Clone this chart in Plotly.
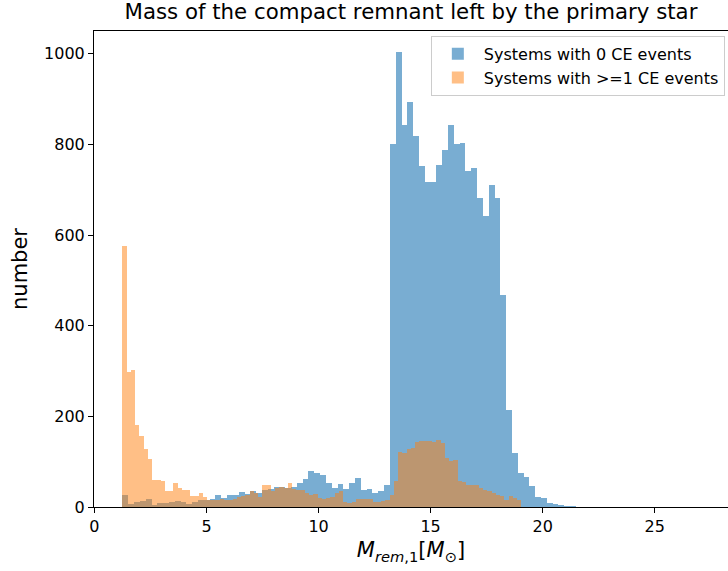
import numpy as np
import plotly.graph_objects as go

# Histogram bin ranges (100 bins each, as matplotlib computed them)
blue_range = (1.25, 27.19)
orange_range = (1.25, 20.18)
n_bins = 100

# Counts per bin: systems with 0 CE events
blue_counts = [
    26, 7, 11, 14, 17, 5, 9, 9, 10, 13,
    10, 7, 12, 16, 16, 18, 27, 19, 26, 26,
    32, 29, 35, 31, 38, 40, 44, 44, 41, 44,
    54, 62, 80, 74, 70, 52, 43, 50, 39, 53,
    63, 37, 40, 30, 36, 49, 800, 1003, 843, 893,
    818, 752, 716, 716, 755, 787, 843, 800, 804, 741,
    748, 682, 643, 710, 682, 468, 215, 119, 75, 66,
    46, 21, 20, 8, 7, 5, 3, 2, 1, 1,
    1, 0, 0, 1, 0, 0, 0, 1, 0, 0,
    0, 0, 0, 0, 0, 0, 0, 0, 0, 1,
]

# Counts per bin: systems with >=1 CE events
orange_counts = [
    575, 297, 303, 180, 157, 127, 106, 60, 60, 57,
    35, 35, 52, 42, 38, 37, 25, 24, 30, 22,
    15, 15, 15, 18, 16, 16, 18, 21, 24, 27,
    36, 30, 22, 48, 49, 35, 43, 45, 43, 52,
    40, 38, 38, 30, 26, 28, 20, 17, 20, 22,
    30, 36, 11, 8, 10, 17, 17, 17, 17, 10,
    12, 13, 16, 26, 57, 121, 119, 129, 131, 143,
    145, 145, 145, 143, 147, 141, 109, 102, 103, 57,
    55, 48, 49, 49, 43, 37, 35, 30, 26, 24,
    15, 24, 20, 16, 1, 0, 1, 0, 0, 1,
]

series_names = ["Systems with 0 CE events", "Systems with >=1 CE events"]
x_ticks = [0, 5, 10, 15, 20, 25]
y_ticks = [0, 200, 400, 600, 800, 1000]


def centers_widths(rng):
    edges = np.linspace(rng[0], rng[1], n_bins + 1)
    return (edges[:-1] + edges[1:]) / 2, np.diff(edges)


bx, bw = centers_widths(blue_range)
ox, ow = centers_widths(orange_range)

fig = go.Figure()
fig.add_trace(go.Bar(
    x=bx, y=blue_counts, width=bw, name=series_names[0],
    marker=dict(color="rgba(31,119,180,0.6)", line=dict(width=0)),
))
fig.add_trace(go.Bar(
    x=ox, y=orange_counts, width=ow, name=series_names[1],
    marker=dict(color="rgba(255,127,14,0.5)", line=dict(width=0)),
))

font_family = "DejaVu Sans, Arial, sans-serif"
fig.update_layout(
    width=728, height=571,
    margin=dict(l=94, r=0, t=31, b=64),
    paper_bgcolor="white", plot_bgcolor="white",
    barmode="overlay", bargap=0,
    font=dict(family=font_family, size=16, color="black"),
    title=dict(
        text="Mass of the compact remnant left by the primary star",
        x=0.5, xref="paper", xanchor="center",
        y=1 - 12 / 571, yref="container", yanchor="middle",
        font=dict(size=21.3, color="black"),
    ),
    xaxis=dict(
        range=[-0.02, 28.27], tickvals=x_ticks,
        showgrid=False, zeroline=False,
        showline=True, linecolor="black", linewidth=1, mirror=True,
        ticks="outside", ticklen=5, tickcolor="black",
        tickfont=dict(size=16),
        title=dict(
            text="<i>M</i><sub><i>rem</i>,1</sub>[<i>M</i><sub>⊙</sub>]",
            font=dict(size=21), standoff=7,
        ),
    ),
    yaxis=dict(
        range=[0, 1050], tickvals=y_ticks,
        showgrid=False, zeroline=False,
        showline=True, linecolor="black", linewidth=1,
        ticks="outside", ticklen=5, tickcolor="black",
        tickfont=dict(size=16),
        title=dict(text="number", font=dict(size=21), standoff=10),
    ),
    legend=dict(
        x=0.995, y=0.99, xanchor="right", yanchor="top",
        bgcolor="rgba(255,255,255,0.8)", bordercolor="#cccccc", borderwidth=1,
        font=dict(size=16), itemwidth=42,
        traceorder="normal",
    ),
)

fig.write_html("out.html")
